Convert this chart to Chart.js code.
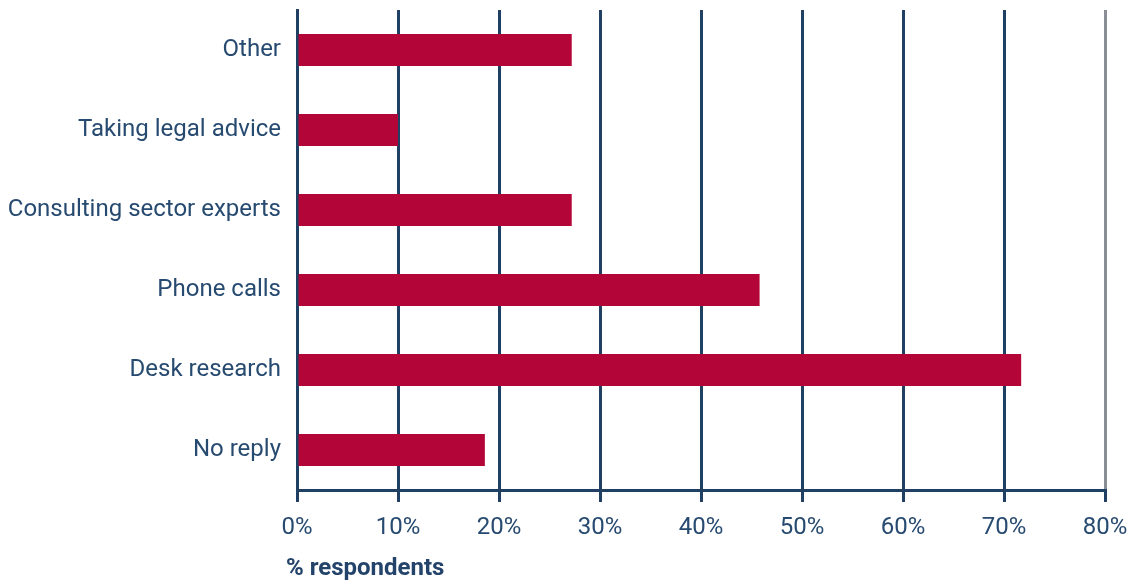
<!DOCTYPE html>
<html>
<head>
<meta charset="utf-8">
<script src="https://cdn.jsdelivr.net/npm/chart.js@4.4.1/dist/chart.umd.min.js"></script>
<style>
  html, body { margin: 0; padding: 0; background: #ffffff; }
  #wrap { position: relative; width: 1134px; height: 582px; }
</style>
</head>
<body>
<div id="wrap"><canvas id="c" width="1134" height="582"></canvas></div>
<script>
const categories = ["Other", "Taking legal advice", "Consulting sector experts", "Phone calls", "Desk research", "No reply"];
const respondents = [27.2, 10.0, 27.2, 45.8, 71.7, 18.6];
const xTicks = [0, 10, 20, 30, 40, 50, 60, 70, 80];
const xTitle = "% respondents";

const NAVY = '#1f3f63';
const TEXT = '#274a70';
const BAR = '#b30537';
const FONT = 'Roboto';

const axisTitlePlugin = {
  id: 'axisTitle',
  afterDraw(chart) {
    const ctx = chart.ctx;
    ctx.save();
    ctx.font = 'bold 24px ' + FONT;
    ctx.fillStyle = '#23436a';
    ctx.textAlign = 'left';
    ctx.textBaseline = 'middle';
    ctx.fillText(xTitle, chart.chartArea.left - 11, 569);
    ctx.restore();
  }
};

new Chart(document.getElementById('c'), {
  type: 'bar',
  data: {
    labels: categories,
    datasets: [{
      data: respondents,
      backgroundColor: BAR,
      borderWidth: 0,
      barPercentage: 0.4,
      categoryPercentage: 1.0
    }]
  },
  plugins: [axisTitlePlugin],
  options: {
    indexAxis: 'y',
    responsive: false,
    animation: false,
    layout: { padding: { top: 10, right: 29, left: 0, bottom: 0 } },
    plugins: { legend: { display: false }, tooltip: { enabled: false } },
    scales: {
      x: {
        min: xTicks[0],
        max: xTicks[xTicks.length - 1],
        afterBuildTicks: (scale) => { scale.ticks = xTicks.map(v => ({ value: v })); },
        afterFit: (scale) => {
          scale.height = 92;
          scale.paddingLeft = 0; scale.paddingRight = 0;
        },
        ticks: {
          color: TEXT,
          font: { family: FONT, size: 24, lineHeight: 1.0 },
          padding: 14,
          callback: (v) => v + '%'
        },
        grid: {
          color: (ctx) => (ctx.tick && ctx.tick.value === 80) ? '#8a8f96' : NAVY,
          lineWidth: 3,
          drawTicks: true,
          tickLength: 12,
          tickColor: NAVY
        },
        border: { display: true, color: NAVY, width: 3 }
      },
      y: {
        afterFit: (scale) => {
          scale.width = 297;
          scale.paddingTop = 0; scale.paddingBottom = 0;
        },
        ticks: {
          color: TEXT,
          font: { family: FONT, size: 24 },
          padding: 8
        },
        grid: { display: false },
        border: { display: true, color: NAVY, width: 3 }
      }
    }
  }
});
</script>
</body>
</html>
